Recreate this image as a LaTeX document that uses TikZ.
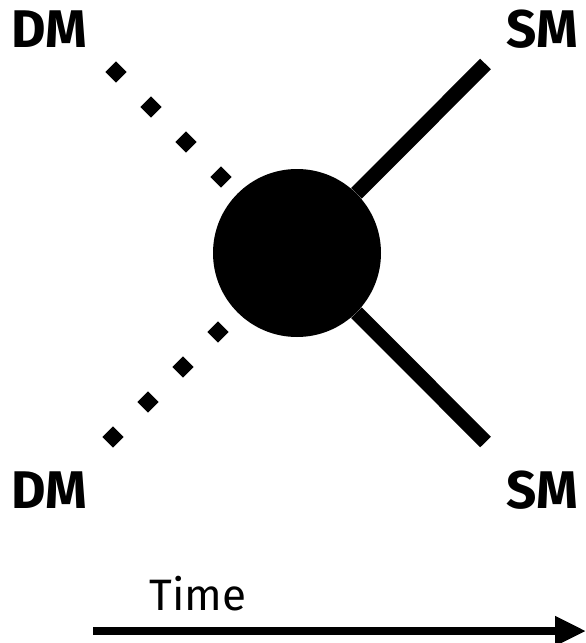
\documentclass[tikz,border=0pt]{standalone}
\usepackage{fontspec}
\setmainfont{Fira Sans}
\usetikzlibrary{arrows.meta}
\begin{document}
\begin{tikzpicture}[x=1pt,y=-1pt,
  lbl/.style={font=\fontsize{53}{60}\selectfont\bfseries, inner sep=0pt, anchor=center},
  tlbl/.style={font=\fontsize{44}{52}\selectfont, inner sep=0pt, anchor=base},
  dmline/.style={line width=15pt, line cap=butt, dash pattern=on 15pt off 34.5pt},
  smline/.style={line width=15pt, line cap=butt},
  timearrow/.style={line width=7.5pt, -{Triangle[length=31pt,width=28pt]}}]
\useasboundingbox (0,0) rectangle (586,643);
\node[circle, fill=black, minimum size=168pt, inner sep=0pt] (blob) at (297,253) {};
\coordinate (dmA) at (110.7,66.7);
\coordinate (dmB) at (107.7,442.3);
\coordinate (smA) at (485.5,64);
\coordinate (smB) at (485.5,442);
\draw[dmline] (dmA) -- (blob);
\draw[dmline] (dmB) -- (blob);
\draw[smline] (blob) -- (smA);
\draw[smline] (blob) -- (smB);
\node[lbl] (dmTL) at (49,29.5) {DM};
\node[lbl] (smTR) at (542,29.5) {SM};
\node[lbl] (dmBL) at (49,490) {DM};
\node[lbl] (smBR) at (542,490) {SM};
\node[tlbl] (time) at (198,610) {Time};
\coordinate (tA) at (93,631);
\coordinate (tB) at (586,631);
\draw[timearrow] (tA) -- (tB);
\end{tikzpicture}
\end{document}
